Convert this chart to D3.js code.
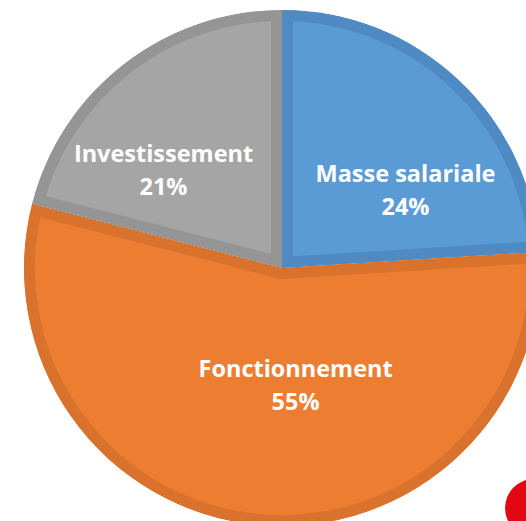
<!DOCTYPE html>
<html>
<head>
<meta charset="utf-8">
<script src="https://cdn.jsdelivr.net/npm/d3@7"></script>
<style>
  html, body { margin: 0; padding: 0; background: #ffffff; overflow: hidden; }
  svg { display: block; }
</style>
</head>
<body>
<svg id="chart" width="526" height="521"></svg>
<script>
// ---- data ----
const categories = ["Masse salariale", "Fonctionnement", "Investissement"];
const values = [24, 55, 21];
const percentLabels = ["24%", "55%", "21%"];

// ---- styles / layout ----
const fillColors = ["#5B9BD5", "#ED7D31", "#A5A5A5"];
const bandColors = ["#4F8AC3", "#D8722D", "#959595"];
const labelPlacement = [ // angle (deg, clockwise from top), radius fraction
  { angle: 57.6, frac: 0.567 },
  { angle: 173.4, frac: 0.458 },
  { angle: 309.7, frac: 0.597 }
];

const svg = d3.select("#chart");
const cx = 282, cy = 268, R = 258, band = 11;

const pie = d3.pie().value(d => d).sort(null).startAngle(0).endAngle(2 * Math.PI);
const arcs = pie(values);
const arcGen = d3.arc().innerRadius(0).outerRadius(R);

const defs = svg.append("defs");
const g = svg.append("g").attr("transform", `translate(${cx},${cy})`);

arcs.forEach((a, i) => {
  defs.append("clipPath").attr("id", "clip" + i)
    .append("path").attr("d", arcGen(a));
  g.append("path")
    .attr("d", arcGen(a))
    .attr("fill", fillColors[i])
    .attr("stroke", bandColors[i])
    .attr("stroke-width", band * 2)
    .attr("stroke-linejoin", "miter")
    .attr("clip-path", `url(#clip${i})`);
});

// labels
const fontFamily = "'Open Sans', 'Liberation Sans', sans-serif";
const baseSize = 20;
const labels = [];
arcs.forEach((a, i) => {
  const p = labelPlacement[i];
  const [lx, ly] = d3.pointRadial(p.angle * Math.PI / 180, R * p.frac);
  const t = g.append("text")
    .attr("text-anchor", "middle")
    .attr("fill", "#ffffff")
    .attr("font-family", fontFamily)
    .attr("font-weight", "bold")
    .attr("font-size", baseSize)
    .style("font-variant-ligatures", "none");
  const l1 = t.append("tspan").attr("x", lx).attr("y", ly - 8).text(categories[i]);
  t.append("tspan").attr("x", lx).attr("y", ly + 25).text(percentLabels[i]);
  labels.push({ t, l1 });
});
// scale font so the first label spans the reference width
const w0 = labels[0].l1.node().getComputedTextLength();
const fitted = baseSize * 180 / w0;
labels.forEach(d => d.t.attr("font-size", fitted));

// decorative red circle at bottom-right corner
svg.append("circle")
  .attr("cx", 534).attr("cy", 508).attr("r", 29)
  .attr("fill", "#E30613");
</script>
</body>
</html>
